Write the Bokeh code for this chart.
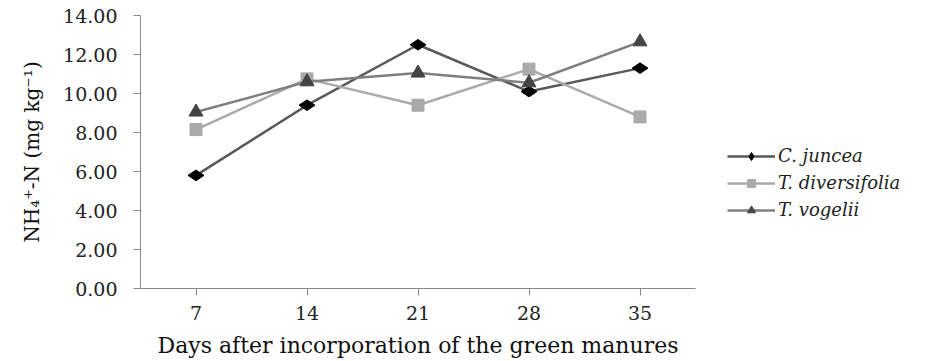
import math
from bokeh.plotting import figure
from bokeh.models import FactorRange, Range1d, Legend, LegendItem
from bokeh.embed import file_html
from bokeh.resources import INLINE

days = ["7", "14", "21", "28", "35"]
c_juncea = [5.80, 9.40, 12.50, 10.10, 11.30]
t_diversifolia = [8.15, 10.75, 9.40, 11.25, 8.80]
t_vogelii = [9.05, 10.60, 11.05, 10.55, 12.65]
y_ticks = [0, 2, 4, 6, 8, 10, 12, 14]

SERIF = "DejaVu Serif"

p = figure(frame_width=555, frame_height=273, x_range=FactorRange(*days), y_range=Range1d(0, 14),
           output_backend="svg", toolbar_location=None,
           min_border_left=140, min_border_right=235, min_border_top=15, min_border_bottom=72)
p.outline_line_color = None
p.xgrid.visible = False
p.ygrid.visible = False

series = [
    ("C. juncea", c_juncea, "#595959", "diamond", "#000000", 16, math.pi / 2),
    ("T. diversifolia", t_diversifolia, "#aaaaaa", "square", "#aaaaaa", 12, 0),
    ("T. vogelii", t_vogelii, "#7f7f7f", "triangle", "#444444", 14, 0),
]
items = []
for name, vals, lc, mk, mc, sz, ang in series:
    r1 = p.line(days, vals, line_color=lc, line_width=2.5)
    r2 = p.scatter(days, vals, marker=mk, size=sz, angle=ang, fill_color=mc, line_color=mc)
    items.append(LegendItem(label=name, renderers=[r1, r2]))

legend = Legend(items=items, location=(32, 68), orientation="vertical",
                glyph_width=48, glyph_height=20, spacing=6, padding=0, margin=0,
                label_text_font=SERIF, label_text_font_style="italic",
                label_text_font_size="18px", label_text_color="#222222",
                label_standoff=3, border_line_color=None, background_fill_alpha=0)
p.add_layout(legend, "right")

p.yaxis.ticker = y_ticks
p.yaxis.major_label_overrides = {t: f"{t:.2f}" for t in y_ticks}
for ax in (p.xaxis[0], p.yaxis[0]):
    ax.axis_line_color = "#888888"
    ax.major_tick_line_color = "#888888"
    ax.minor_tick_line_color = None
    ax.major_tick_in = 0
    ax.major_tick_out = 7
    ax.major_label_text_font = SERIF
    ax.major_label_text_font_size = "19px"
    ax.major_label_text_color = "#222222"
    ax.axis_label_text_font = SERIF
    ax.axis_label_text_font_style = "normal"
    ax.axis_label_text_color = "#111111"
p.yaxis.major_label_standoff = 16
p.xaxis.major_label_standoff = 10
p.xaxis.axis_label = "Days after incorporation of the green manures"
p.xaxis.axis_label_text_font_size = "22px"
p.xaxis.axis_label_standoff = 10
p.yaxis.axis_label = "NH\u2084\u207a-N (mg kg\u207b\u00b9)"
p.yaxis.axis_label_text_font_size = "20px"
p.yaxis.axis_label_standoff = 16

open("out.html", "w").write(file_html(p, INLINE))
